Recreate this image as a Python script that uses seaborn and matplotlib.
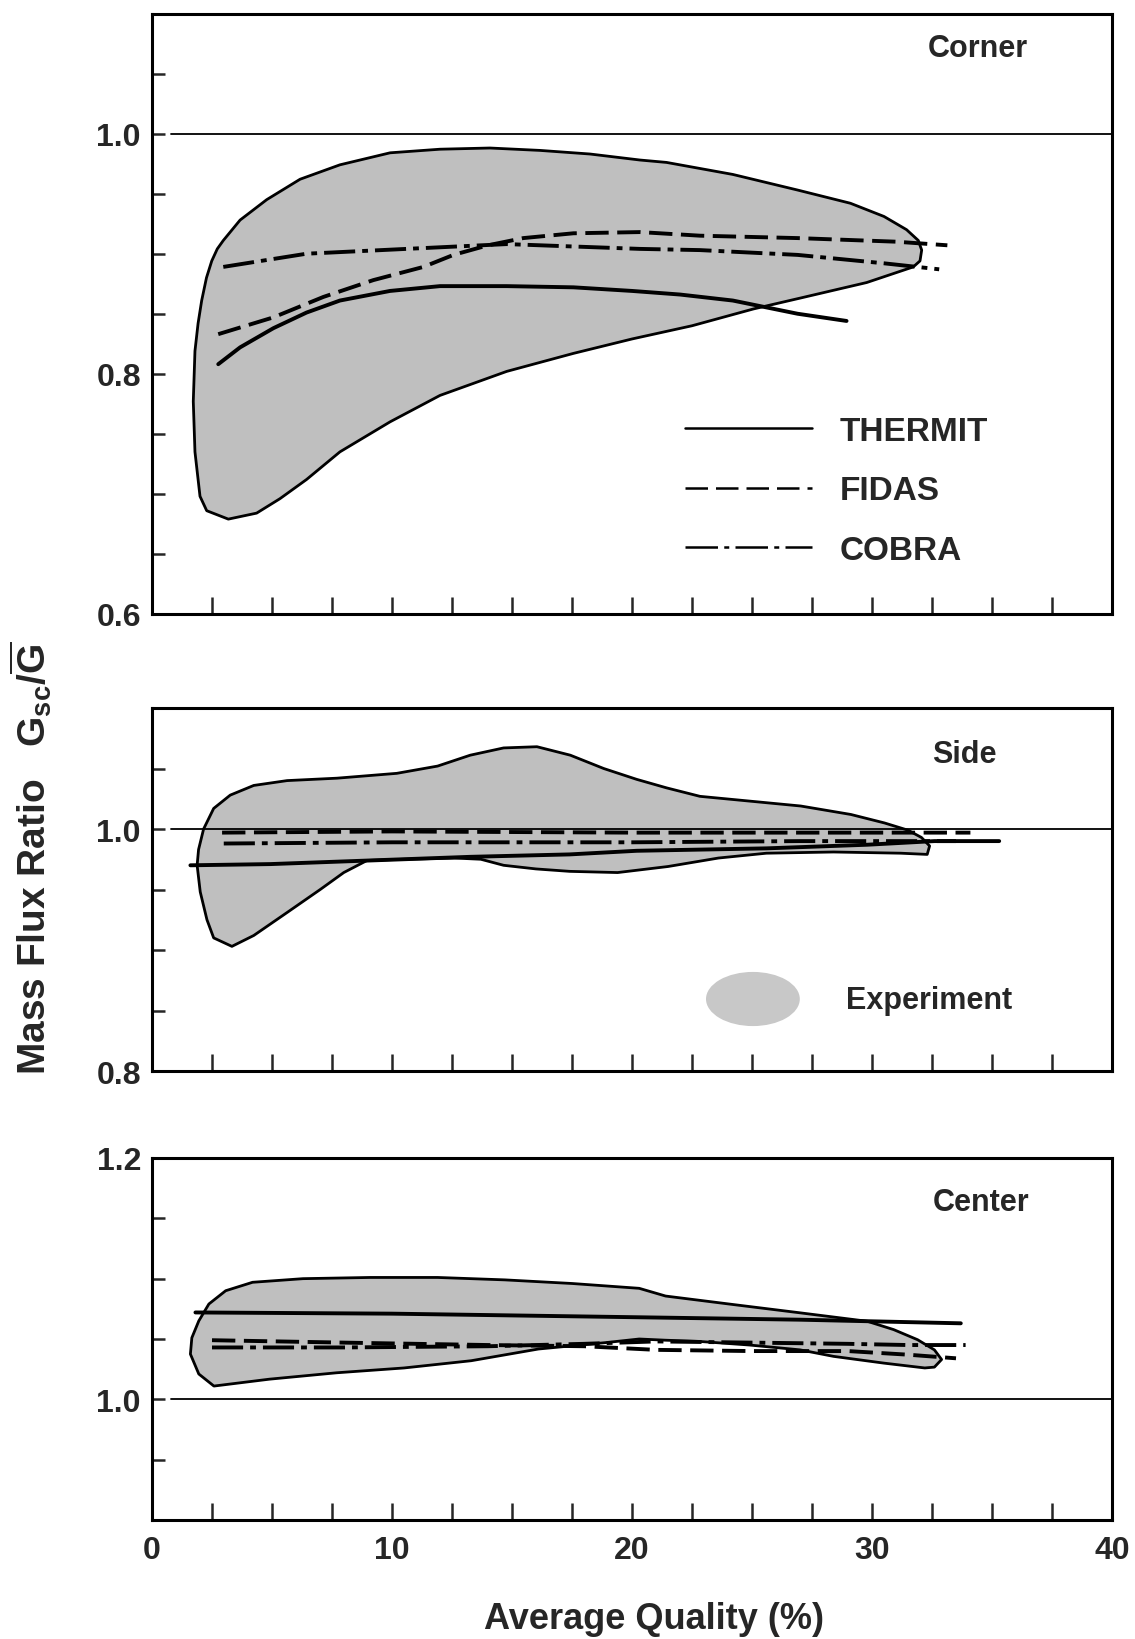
import numpy as np
import pandas as pd
import matplotlib
matplotlib.use("Agg")
import matplotlib.pyplot as plt
import seaborn as sns
from matplotlib.lines import Line2D
from matplotlib.patches import Patch, Ellipse
from matplotlib.legend_handler import HandlerPatch
from matplotlib.ticker import MultipleLocator, FixedLocator

# ---------------- data ----------------
# Corner panel
corner_env_x = [3.18, 2.28, 2.0, 1.79, 1.72, 1.79, 1.92, 2.07, 2.27, 2.49, 2.72, 2.97, 3.67, 4.78,
                6.17, 7.83, 9.92, 12.0, 14.08, 16.17, 18.25, 20.33, 21.44, 24.2, 26.9, 29.1, 30.5,
                31.44, 31.93, 32.07, 32.0, 31.72, 29.78, 27.0, 25.06, 22.5, 20.0, 17.56, 14.78, 12.0,
                9.92, 7.83, 6.44, 5.33, 4.36]
corner_env_y = [0.679, 0.686, 0.698, 0.735, 0.777, 0.819, 0.842, 0.861, 0.880, 0.894, 0.904, 0.911,
                0.928, 0.945, 0.962, 0.974, 0.984, 0.987, 0.988, 0.986, 0.983, 0.978, 0.976, 0.966,
                0.953, 0.942, 0.931, 0.920, 0.911, 0.903, 0.894, 0.889, 0.876, 0.863, 0.854, 0.840,
                0.829, 0.817, 0.802, 0.782, 0.760, 0.735, 0.712, 0.696, 0.684]
corner_thermit_x = [2.76, 3.67, 5.06, 6.44, 7.83, 9.92, 12.0, 14.78, 17.56, 20.0, 22.0, 24.2, 26.9, 28.94]
corner_thermit_y = [0.808, 0.822, 0.838, 0.851, 0.861, 0.869, 0.873, 0.873, 0.872, 0.869, 0.866, 0.861, 0.850, 0.844]
corner_fidas_x = [2.76, 5.06, 7.14, 9.22, 11.31, 12.56, 14.0, 15.47, 17.56, 20.33, 22.83, 26.9, 31.0, 33.14]
corner_fidas_y = [0.833, 0.847, 0.864, 0.878, 0.889, 0.899, 0.907, 0.913, 0.917, 0.918, 0.915, 0.913, 0.910, 0.907]
corner_cobra_x = [2.97, 6.44, 10.6, 14.78, 17.56, 20.33, 22.83, 26.9, 30.5, 32.8]
corner_cobra_y = [0.889, 0.900, 0.904, 0.908, 0.906, 0.904, 0.903, 0.899, 0.892, 0.887]

# Side panel
side_env_x = [3.33, 2.57, 2.29, 2.01, 1.88, 1.94, 2.15, 2.57, 3.26, 4.24, 5.63, 7.71, 10.2, 11.9,
              13.26, 14.65, 16.04, 17.43, 18.82, 20.2, 21.44, 22.83, 24.93, 27.03, 29.12, 30.52,
              31.5, 32.06, 32.4, 32.3, 31.2, 28.4, 25.6, 23.6, 21.5, 19.4, 17.4, 16.0, 14.65, 13.7,
              12.6, 10.5, 8.96, 7.99, 7.01, 5.63, 4.24]
side_env_y = [0.903, 0.910, 0.925, 0.948, 0.970, 0.983, 1.0, 1.017, 1.028, 1.036, 1.040, 1.042,
              1.046, 1.052, 1.061, 1.067, 1.068, 1.061, 1.050, 1.041, 1.034, 1.027, 1.023, 1.019,
              1.012, 1.005, 0.999, 0.993, 0.986, 0.979, 0.980, 0.981, 0.980, 0.976, 0.969, 0.964,
              0.965, 0.967, 0.970, 0.975, 0.976, 0.975, 0.974, 0.964, 0.950, 0.931, 0.912]
side_thermit_x = [1.6, 4.93, 9.1, 13.26, 17.4, 20.2, 25.6, 29.8, 32.6, 35.3]
side_thermit_y = [0.970, 0.971, 0.974, 0.977, 0.979, 0.982, 0.984, 0.987, 0.990, 0.990]
side_fidas_x = [2.92, 10.0, 20.0, 28.0, 34.1]
side_fidas_y = [0.997, 0.998, 0.997, 0.997, 0.997]
side_cobra_x = [2.99, 10.0, 20.0, 27.0, 33.5]
side_cobra_y = [0.988, 0.989, 0.989, 0.990, 0.990]

# Center panel
center_env_x = [2.58, 1.95, 1.60, 1.66, 1.95, 2.37, 3.07, 4.19, 6.29, 9.09, 11.9, 14.7, 17.5, 20.3,
                21.4, 24.2, 27.0, 29.8, 30.9, 31.9, 32.6, 32.9, 32.6, 32.2, 30.5, 28.4, 27.0, 24.9,
                22.8, 21.4, 20.3, 18.9, 16.1, 13.3, 10.5, 7.69, 4.89]
center_env_y = [1.011, 1.021, 1.0375, 1.051, 1.065, 1.079, 1.090, 1.097, 1.100, 1.101, 1.101, 1.099,
                1.096, 1.092, 1.0856, 1.0786, 1.0717, 1.0647, 1.0578, 1.0494, 1.041, 1.033, 1.0267,
                1.026, 1.030, 1.0356, 1.041, 1.045, 1.048, 1.049, 1.050, 1.047, 1.0417, 1.032, 1.026,
                1.022, 1.0167]
center_thermit_x = [1.81, 10.0, 20.3, 27.0, 33.7]
center_thermit_y = [1.072, 1.071, 1.068, 1.066, 1.063]
center_fidas_x = [2.5, 8.0, 14.0, 18.0, 21.0, 25.0, 29.0, 31.5, 33.5]
center_fidas_y = [1.049, 1.047, 1.045, 1.044, 1.041, 1.040, 1.040, 1.037, 1.034]
center_cobra_x = [2.5, 8.0, 14.0, 18.0, 21.0, 25.0, 29.0, 31.5, 33.9]
center_cobra_y = [1.043, 1.043, 1.044, 1.046, 1.048, 1.047, 1.046, 1.045, 1.045]

panel_names = ["Corner", "Side", "Center"]
model_names = ["THERMIT", "FIDAS", "COBRA"]
ylims = [(0.6, 1.1), (0.8, 1.1), (0.9, 1.2)]
ylabels_at = [[0.6, 0.8, 1.0], [0.8, 1.0], [1.0, 1.2]]
xtick_labels = [0, 10, 20, 30, 40]

# ---------------- style ----------------
sns.set_theme(style="white")
plt.rcParams['font.family'] = ['Liberation Sans', 'DejaVu Sans']
plt.rcParams['mathtext.fontset'] = 'custom'
plt.rcParams['mathtext.rm'] = 'Liberation Sans:bold'
plt.rcParams['mathtext.it'] = 'Liberation Sans:bold'
plt.rcParams['mathtext.bf'] = 'Liberation Sans:bold'

FILL = '#bfbfbf'
LW = 2.8
styles = {
    "THERMIT": '-',
    "FIDAS": (0, (6, 2.2)),
    "COBRA": (0, (8, 1.8, 1.5, 1.8)),
}

fig = plt.figure(figsize=(11.35, 16.4), dpi=100)
W, H = 1135.0, 1640.0
left = 152 / W
width = 960 / W
boxes = [(14.5, 615.0), (709.0, 1072.0), (1159.0, 1521.0)]
axes = [fig.add_axes([left, 1 - b / H, width, (b - t) / H]) for (t, b) in boxes]

panels = [
    (corner_env_x, corner_env_y, [(corner_thermit_x, corner_thermit_y),
                                  (corner_fidas_x, corner_fidas_y),
                                  (corner_cobra_x, corner_cobra_y)]),
    (side_env_x, side_env_y, [(side_thermit_x, side_thermit_y),
                              (side_fidas_x, side_fidas_y),
                              (side_cobra_x, side_cobra_y)]),
    (center_env_x, center_env_y, [(center_thermit_x, center_thermit_y),
                                  (center_fidas_x, center_fidas_y),
                                  (center_cobra_x, center_cobra_y)]),
]
name_pos = [(0.86, 0.943), (0.846, 0.873), (0.864, 0.878)]

for i, ax in enumerate(axes):
    ex, ey, lines = panels[i]
    ax.fill(ex, ey, facecolor=FILL, edgecolor='black', linewidth=2.0, zorder=1,
            joinstyle='round')
    ax.axhline(1.0, xmin=0.02, xmax=1.0, color='black', linewidth=1.3, zorder=2)
    for name, (lx, ly) in zip(model_names, lines):
        sns.lineplot(x=lx, y=ly, ax=ax, color='black', linewidth=LW,
                     linestyle=styles[name], estimator=None, sort=False, zorder=3)
    ax.set_xlim(0, 40)
    ax.set_ylim(*ylims[i])
    ax.xaxis.set_major_locator(FixedLocator(xtick_labels))
    ax.xaxis.set_minor_locator(MultipleLocator(2.5))
    ax.yaxis.set_major_locator(FixedLocator(ylabels_at[i]))
    ax.yaxis.set_minor_locator(MultipleLocator(0.05))
    ax.tick_params(axis='x', which='both', direction='in', length=12, width=1.8,
                   bottom=True, top=False, pad=11, labelsize=23)
    ax.tick_params(axis='y', which='both', direction='in', length=9.5, width=1.8,
                   left=True, right=False, pad=8, labelsize=23)
    ax.set_yticklabels([f"{v:.1f}" for v in ylabels_at[i]], fontweight='bold')
    if i < 2:
        ax.set_xticklabels([])
    else:
        ax.set_xticklabels([str(v) for v in xtick_labels], fontweight='bold')
    for s in ax.spines.values():
        s.set_visible(True)
        s.set_color('black')
        s.set_linewidth(2.2)
    ax.set_xlabel('')
    ax.set_ylabel('')
    ax.text(name_pos[i][0], name_pos[i][1], panel_names[i], transform=ax.transAxes,
            ha='center', va='center', fontsize=22, fontweight='bold')

# legend (model lines) in the Corner panel
leg_styles = {
    "THERMIT": '-',
    "FIDAS": (0, (9, 3.2)),
    "COBRA": (0, (13, 2.5, 2, 2.5)),
}
handles = [Line2D([], [], color='black', linewidth=1.8, linestyle=leg_styles[m]) for m in model_names]
axes[0].legend(handles, model_names, loc='upper left', bbox_to_anchor=(685 / W, 1 - 417 / H),
               bbox_transform=fig.transFigure, frameon=False,
               prop={'weight': 'bold', 'size': 24}, handlelength=3.8, handletextpad=0.85,
               labelspacing=0.85, borderpad=0, borderaxespad=0)

# legend (experiment blob) in the Side panel
def make_blob(legend, orig_handle, xdescent, ydescent, width, height, fontsize):
    return Ellipse((width / 2 - xdescent, height / 2 - ydescent), width, height)

exp_handle = Patch(facecolor='#c8c8c8', edgecolor='none')
axes[1].legend([exp_handle], ["Experiment"], loc='center left',
               bbox_to_anchor=(706 / W, 1 - 1000 / H), bbox_transform=fig.transFigure,
               frameon=False, prop={'weight': 'bold', 'size': 22},
               handlelength=3.07, handleheight=2.35, handletextpad=1.5,
               borderpad=0, borderaxespad=0,
               handler_map={Patch: HandlerPatch(patch_func=make_blob)})

fig.text(31 / W, 1 - 858 / H, r'Mass Flux Ratio   $\mathrm{G_{sc}/\overline{G}}$',
         rotation=90, ha='center', va='center', fontsize=28, fontweight='bold')
fig.text(654 / W, 1 - 1620 / H, 'Average Quality (%)',
         ha='center', va='center', fontsize=26, fontweight='bold')

fig.savefig('out.png', dpi=100, facecolor='white')
